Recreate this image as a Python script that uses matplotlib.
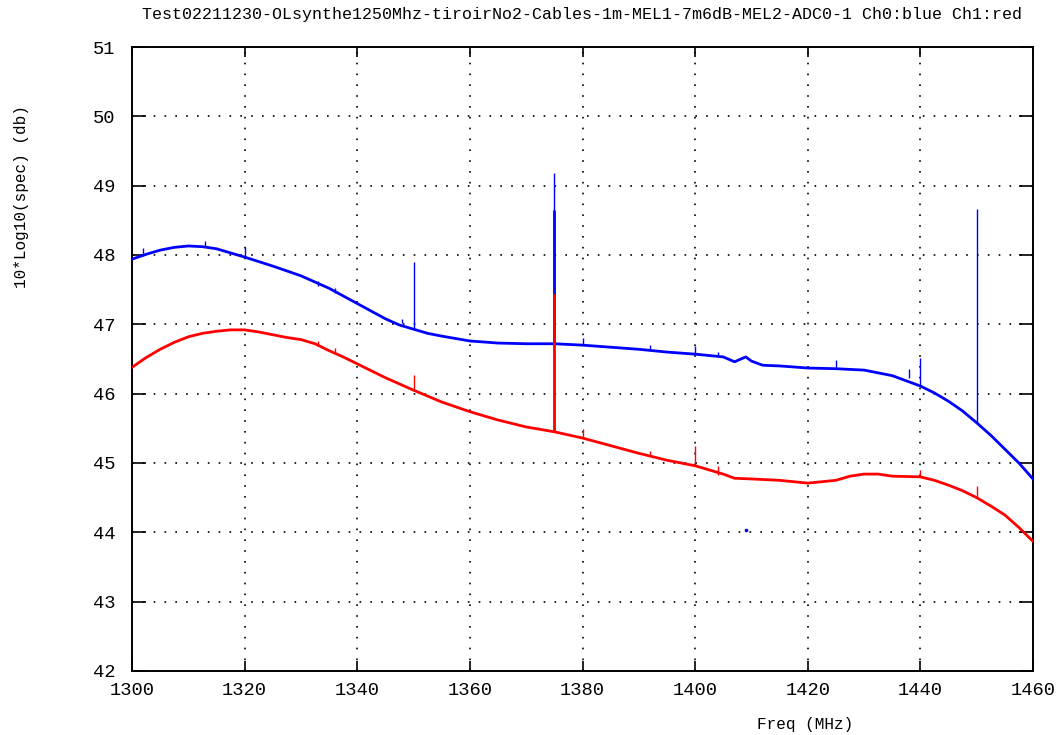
import matplotlib
matplotlib.use('Agg')
import matplotlib.pyplot as plt

# ── data ─────────────────────────────────────────────────────────────────────
freq0 = [1300, 1302.5, 1305, 1307.5, 1310, 1312.5, 1315, 1320, 1325, 1330, 1335, 1340,
         1342.5, 1345, 1347.5, 1350, 1352.5, 1355, 1360, 1365, 1370, 1375, 1380, 1385,
         1390, 1395, 1400, 1405, 1407, 1409, 1410, 1412, 1415, 1420, 1425, 1430, 1435,
         1440, 1442.5, 1445, 1447.5, 1450, 1452.5, 1455, 1457.5, 1460]
ch0 = [47.94, 48.01, 48.07, 48.11, 48.13, 48.12, 48.09, 47.97, 47.84, 47.70, 47.52, 47.30,
       47.19, 47.08, 46.99, 46.93, 46.87, 46.83, 46.76, 46.73, 46.72, 46.72, 46.70, 46.67,
       46.64, 46.60, 46.57, 46.53, 46.46, 46.53, 46.47, 46.41, 46.40, 46.37, 46.36, 46.34,
       46.26, 46.11, 46.01, 45.89, 45.75, 45.58, 45.40, 45.20, 45.00, 44.77]

freq1 = [1300, 1302.5, 1305, 1307.5, 1310, 1312.5, 1315, 1317.5, 1320, 1322.5, 1325,
         1327.5, 1330, 1332.5, 1335, 1337.5, 1340, 1345, 1350, 1355, 1360, 1365, 1370,
         1375, 1380, 1385, 1390, 1395, 1400, 1405, 1407, 1410, 1415, 1420, 1425, 1427.5,
         1430, 1432.5, 1435, 1440, 1442.5, 1445, 1447.5, 1450, 1452.5, 1455, 1457.5, 1460]
ch1 = [46.38, 46.52, 46.64, 46.74, 46.82, 46.87, 46.90, 46.92, 46.92, 46.89, 46.85,
       46.81, 46.78, 46.72, 46.62, 46.53, 46.43, 46.23, 46.05, 45.88, 45.74, 45.62, 45.52,
       45.45, 45.36, 45.25, 45.14, 45.04, 44.96, 44.84, 44.78, 44.77, 44.75, 44.71, 44.75,
       44.81, 44.84, 44.84, 44.81, 44.80, 44.75, 44.68, 44.60, 44.50, 44.38, 44.25, 44.07, 43.87]

# spikes: frequency, base, top
sp0_f = [1302, 1313, 1320, 1333, 1336, 1348, 1350, 1375, 1380, 1392, 1400, 1404, 1425, 1438, 1440, 1450]
sp0_lo = [47.98, 48.12, 47.97, 47.55, 47.45, 47.02, 46.93, 46.72, 46.70, 46.63, 46.57, 46.53, 46.36, 46.22, 46.11, 45.58]
sp0_hi = [48.10, 48.20, 48.12, 47.62, 47.52, 47.08, 47.90, 49.18, 46.80, 46.70, 46.69, 46.60, 46.48, 46.35, 46.52, 48.66]

sp1_f = [1333, 1336, 1350, 1375, 1380, 1392, 1400, 1404, 1440, 1450]
sp1_lo = [46.70, 46.60, 46.05, 45.45, 45.36, 45.12, 44.96, 44.83, 44.80, 44.50]
sp1_hi = [46.76, 46.66, 46.27, 47.44, 45.49, 45.18, 45.25, 44.95, 44.90, 44.67]

title = 'Test02211230-OLsynthe1250Mhz-tiroirNo2-Cables-1m-MEL1-7m6dB-MEL2-ADC0-1 Ch0:blue Ch1:red'

plt.rcParams['font.family'] = ['Liberation Mono', 'DejaVu Sans Mono']

W, H = 1059, 735
fig = plt.figure(figsize=(W / 100, H / 100), dpi=100)
ax = fig.add_axes([132 / W, 1 - 671 / H, (1033 - 132) / W, (671 - 47) / H])

ax.plot(freq0, ch0, color='#0000ff', linewidth=2.0, zorder=3)
ax.vlines(sp0_f, sp0_lo, sp0_hi, color='#0000ff', linewidth=1.0, zorder=3)
ax.vlines([1375], [46.72], [48.65], color='#0000ff', linewidth=2.0, zorder=3)
ax.plot(freq1, ch1, color='#ff0000', linewidth=2.0, zorder=4)
ax.vlines(sp1_f, sp1_lo, sp1_hi, color='#ff0000', linewidth=1.0, zorder=4)
ax.vlines([1375], [45.45], [47.44], color='#ff0000', linewidth=2.0, zorder=4)
ax.plot([1409], [44.04], marker='s', markersize=1.5, color='#0000ff', linestyle='none')

ax.set_xlim(1300, 1460)
ax.set_ylim(42, 51)
ax.set_xticks(range(1300, 1461, 20))
ax.set_yticks(range(42, 52))
ax.grid(True, color='black', linestyle=(0, (1, 5.5)), linewidth=1.2)
ax.tick_params(axis='x', direction='in', length=7, width=1.2, top=True,
               labelsize=13.5, pad=8)
ax.tick_params(axis='y', direction='in', length=10, width=1.2, right=True,
               labelsize=13.5, pad=12)
for s in ax.spines.values():
    s.set_linewidth(1.4)

fig.text(582 / W, 1 - 14 / H, title, ha='center', va='center', fontsize=12)
fig.text(22 / W, 1 - 197 / H, '10*Log10(spec) (db)', rotation=90,
         ha='center', va='center', fontsize=11.5)
fig.text(805 / W, 1 - 724 / H, 'Freq (MHz)', ha='center', va='center', fontsize=11.5)

plt.savefig('out.png', dpi=100)
plt.close()
